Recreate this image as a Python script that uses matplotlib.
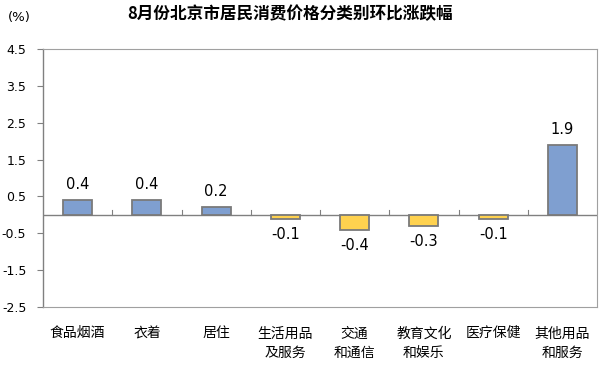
import matplotlib
matplotlib.use('Agg')
import matplotlib.pyplot as plt
import numpy as np

plt.rcParams['font.family'] = ['Noto Sans CJK SC', 'DejaVu Sans']

# data
categories = ['食品烟酒', '衣着', '居住', '生活用品\n及服务', '交通\n和通信',
              '教育文化\n和娱乐', '医疗保健', '其他用品\n和服务']
values = [0.4, 0.4, 0.2, -0.1, -0.4, -0.3, -0.1, 1.9]
yticks = [4.5, 3.5, 2.5, 1.5, 0.5, -0.5, -1.5, -2.5]

blue = '#7f9fd0'
yellow = '#ffd24f'
edge = '#7a7a7a'

fig = plt.figure(figsize=(6.05, 3.70), dpi=100)
ax = fig.add_axes([43/605, 1-307/370, 554/605, 258/370])

x = np.arange(len(values))
colors = [blue if v >= 0 else yellow for v in values]
ax.bar(x, values, width=0.42, color=colors, edgecolor=edge, linewidth=1.3, zorder=3)

for xi, v in zip(x, values):
    if v >= 0:
        ax.text(xi, v + 0.22, f'{v:.1f}', ha='center', va='bottom', fontsize=10.5, family='DejaVu Sans')
    else:
        ax.text(xi, v - 0.22, f'{v:.1f}', ha='center', va='top', fontsize=10.5, family='DejaVu Sans')

ax.set_xlim(-0.5, len(values) - 0.5)
ax.set_ylim(-2.5, 4.5)
ax.set_yticks(yticks)
ax.set_yticklabels([f'{t:.1f}' for t in yticks], fontsize=9, family='DejaVu Sans')
ax.tick_params(axis='y', length=4, width=0.8, color='#808080', pad=8)

# zero line with category separators
ax.axhline(0, color='#808080', linewidth=1.0, zorder=2)
for b in np.arange(0.5, len(values) - 0.5, 1):
    ax.plot([b, b], [0, 0.12], color='#808080', linewidth=0.8, zorder=2)

ax.set_xticks(x)
ax.set_xticklabels(categories, fontsize=10, linespacing=1.5, va='top')
ax.tick_params(axis='x', length=0, pad=14)

for s in ['top', 'right', 'bottom']:
    ax.spines[s].set_color('#a0a0a0')
    ax.spines[s].set_linewidth(0.8)
ax.spines['left'].set_color('#808080')
ax.spines['left'].set_linewidth(1.0)

fig.text(290/605, 1-14/370, '8月份北京市居民消费价格分类别环比涨跌幅', ha='center', va='center',
         fontsize=12, fontweight='bold')
fig.text(8/605, 1-18/370, '(%)', ha='left', va='center', fontsize=9.5, family='DejaVu Sans')

fig.savefig('out.png', dpi=100)
